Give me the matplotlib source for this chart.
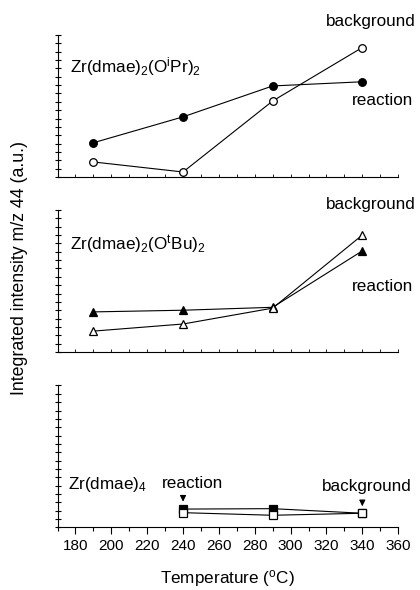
import matplotlib
matplotlib.use("Agg")
import matplotlib.pyplot as plt
from matplotlib.ticker import MultipleLocator, NullFormatter

plt.rcParams['font.family'] = ['Liberation Sans', 'DejaVu Sans']
plt.rcParams['mathtext.default'] = 'regular'

# temperatures (degC)
temp = [190, 240, 290, 340]
temp4 = [240, 290, 340]

# integrated intensity, arbitrary units
ipr_reaction = [4.1, 7.2, 10.9, 11.4]
ipr_background = [1.8, 0.6, 9.1, 15.5]
tbu_reaction = [4.8, 5.0, 5.35, 12.1]
tbu_background = [2.5, 3.35, 5.25, 14.0]
dmae_reaction = [2.2, 2.25, 1.7]
dmae_background = [1.77, 1.46, 1.7]

xticks = list(range(180, 361, 20))

fig = plt.figure(figsize=(4.2, 5.9), dpi=100)
left, width, height = 0.137, 0.811, 0.2407
bottoms = [0.700, 0.4034, 0.106]
axes = [fig.add_axes([left, b, width, height]) for b in bottoms]

fs = 12.3
for i, ax in enumerate(axes):
    ax.set_xlim(170, 360)
    ax.set_ylim(0, 17)
    ax.spines['top'].set_visible(False)
    ax.spines['right'].set_visible(False)
    ax.yaxis.set_major_locator(MultipleLocator(1))
    ax.yaxis.set_major_formatter(NullFormatter())
    ax.tick_params(axis='y', direction='inout', length=4, width=0.8)
    ax.xaxis.set_major_locator(MultipleLocator(20))
    ax.xaxis.set_minor_locator(MultipleLocator(10))
    if i < 2:
        ax.xaxis.set_major_formatter(NullFormatter())
        ax.tick_params(axis='x', which='both', direction='in', length=2, width=0.6)
    else:
        ax.set_xticks(xticks)
        ax.tick_params(axis='x', which='major', direction='out', length=5, width=0.8,
                       labelsize=11, pad=3)
        ax.tick_params(axis='x', which='minor', direction='out', length=3, width=0.8)

lk = dict(color='black', lw=0.8, markersize=5.5, markeredgewidth=0.9)

ax = axes[0]
ax.plot(temp, ipr_reaction, marker='o', markerfacecolor='black', **lk)
ax.plot(temp, ipr_background, marker='o', markerfacecolor='white', **lk)
ax.text(177, 13.2, 'Zr(dmae)$_2$(O$^{i}$Pr)$_2$', fontsize=fs, va='center')
ax.text(344.5, 18.6, 'background', fontsize=fs, ha='center', va='center')
ax.text(351.5, 9.2, 'reaction', fontsize=fs, ha='center', va='center')

ax = axes[1]
ax.plot(temp, tbu_reaction, marker='^', markerfacecolor='black', **lk)
ax.plot(temp, tbu_background, marker='^', markerfacecolor='white', **lk)
ax.text(177, 12.8, 'Zr(dmae)$_2$(O$^{t}$Bu)$_2$', fontsize=fs, va='center')
ax.text(344.5, 17.6, 'background', fontsize=fs, ha='center', va='center')
ax.text(351.5, 7.8, 'reaction', fontsize=fs, ha='center', va='center')

ax = axes[2]
ax.plot(temp4, dmae_reaction, marker='s', markerfacecolor='black', **lk)
ax.plot(temp4, dmae_background, marker='s', markerfacecolor='white', **lk)
ax.text(176, 5.2, 'Zr(dmae)$_4$', fontsize=fs, va='center')
ax.text(245.5, 5.3, 'reaction', fontsize=fs, ha='center', va='center')
ax.text(342.5, 4.9, 'background', fontsize=fs, ha='center', va='center')
arrow = dict(arrowstyle='-|>', color='black', lw=0.8, mutation_scale=9)
ax.annotate('', xy=(240, 2.75), xytext=(240, 3.9), arrowprops=arrow)
ax.annotate('', xy=(340, 2.2), xytext=(340, 3.4), arrowprops=arrow)
ax.set_xlabel('Temperature ($^{o}$C)', fontsize=fs, labelpad=11)

fig.text(0.047, 0.546, 'Integrated intensity m/z 44 (a.u.)', rotation=90,
         fontsize=12.8, ha='center', va='center')

fig.savefig('out.png', dpi=100)
